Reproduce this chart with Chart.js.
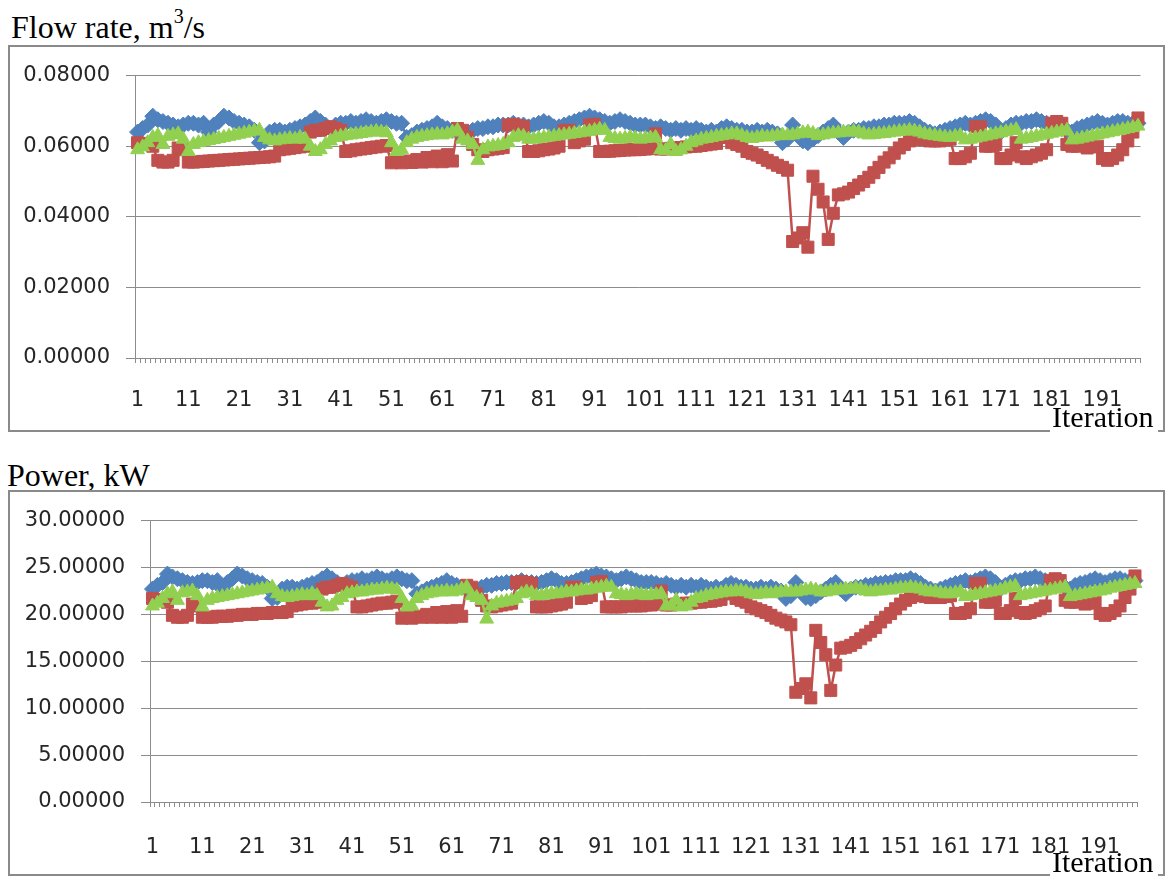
<!DOCTYPE html>
<html>
<head>
<meta charset="utf-8">
<title>Flow rate and power per iteration</title>
<script src="https://cdn.jsdelivr.net/npm/chart.js"></script>
<style>
  body { margin: 0; background: #fff; width: 1172px; height: 879px; position: relative; overflow: hidden; }
  .title { position: absolute; font-family: "Liberation Serif", serif; font-size: 32px; line-height: 32px; color: #000; white-space: nowrap; }
  .title sup { font-size: 20px; line-height: 0; position: relative; top: -3px; }
  .box { position: absolute; left: 8px; width: 1153px; border: 2px solid #8a8a8a; background: #fff; }
  .box canvas { display: block; }
  .gap { position: absolute; left: 1050px; width: 108px; height: 6px; background: #fff; }
  .xname { position: absolute; font-family: "Liberation Serif", serif; font-size: 30px; line-height: 30px; color: #000; white-space: nowrap; }
</style>
</head>
<body>
<div class="title" style="left:11px; top:11px;">Flow rate, m<sup>3</sup>/s</div>
<div class="box" style="top:45px; height:383px;"><canvas id="flowChart" width="1153" height="383"></canvas></div>
<div class="gap" style="top:427px;"></div>
<div class="xname" style="left:1052px; top:402px;">Iteration</div>

<div class="title" style="left:7px; top:459px;">Power, kW</div>
<div class="box" style="top:490px; height:382px;"><canvas id="powerChart" width="1153" height="382"></canvas></div>
<div class="gap" style="top:871px;"></div>
<div class="xname" style="left:1052px; top:847px;">Iteration</div>

<script>
    // Iterations 1..198 on the category axis, a label every 10
    const iterations = [];
    for (let i = 1; i <= 198; i++) iterations.push(String(i));
    const labelledIterations = ['1', '11', '21', '31', '41', '51', '61', '71', '81', '91',
        '101', '111', '121', '131', '141', '151', '161', '171', '181', '191'];

    // Flow rate, m3/s
    const flowBlue = [
        0.0640,0.0650,0.0660,0.0685,0.0675,0.0670,0.0665,0.0660,0.0655,0.0660,
        0.0665,0.0665,0.0660,0.0665,0.0640,0.0660,0.0670,0.0685,0.0680,0.0670,
        0.0665,0.0660,0.0655,0.0645,0.0610,0.0615,0.0640,0.0645,0.0645,0.0640,
        0.0645,0.0650,0.0655,0.0660,0.0670,0.0680,0.0670,0.0660,0.0650,0.0660,
        0.0665,0.0665,0.0670,0.0665,0.0670,0.0675,0.0670,0.0665,0.0670,0.0675,
        0.0670,0.0665,0.0665,0.0625,0.0630,0.0640,0.0645,0.0650,0.0655,0.0665,
        0.0655,0.0650,0.0645,0.0640,0.0635,0.0630,0.0645,0.0650,0.0650,0.0655,
        0.0655,0.0660,0.0660,0.0660,0.0665,0.0660,0.0660,0.0655,0.0660,0.0665,
        0.0670,0.0665,0.0655,0.0655,0.0660,0.0665,0.0670,0.0675,0.0680,0.0685,
        0.0680,0.0675,0.0670,0.0665,0.0670,0.0675,0.0670,0.0665,0.0660,0.0660,
        0.0660,0.0655,0.0650,0.0655,0.0650,0.0645,0.0650,0.0645,0.0650,0.0645,
        0.0650,0.0645,0.0640,0.0645,0.0640,0.0650,0.0655,0.0650,0.0645,0.0645,
        0.0640,0.0640,0.0645,0.0640,0.0645,0.0640,0.0635,0.0610,0.0620,0.0660,
        0.0630,0.0615,0.0610,0.0620,0.0630,0.0640,0.0650,0.0660,0.0640,0.0625,
        0.0640,0.0645,0.0645,0.0650,0.0650,0.0655,0.0655,0.0660,0.0660,0.0665,
        0.0665,0.0665,0.0670,0.0665,0.0655,0.0645,0.0640,0.0635,0.0640,0.0645,
        0.0650,0.0655,0.0660,0.0665,0.0660,0.0665,0.0670,0.0675,0.0670,0.0660,
        0.0640,0.0650,0.0660,0.0665,0.0665,0.0670,0.0670,0.0675,0.0670,0.0665,
        0.0660,0.0655,0.0650,0.0645,0.0640,0.0650,0.0655,0.0660,0.0665,0.0670,
        0.0665,0.0660,0.0665,0.0670,0.0670,0.0665,0.0665,0.0665
    ];
    const flowRed = [
        0.0610,0.0608,0.0605,0.0600,0.0560,0.0555,0.0555,0.0560,0.0595,0.0590,
        0.0555,0.0555,0.0556,0.0557,0.0558,0.0559,0.0560,0.0561,0.0562,0.0563,
        0.0564,0.0565,0.0566,0.0567,0.0568,0.0569,0.0570,0.0572,0.0590,0.0592,
        0.0594,0.0596,0.0598,0.0600,0.0640,0.0645,0.0645,0.0650,0.0655,0.0650,
        0.0645,0.0585,0.0587,0.0590,0.0592,0.0594,0.0596,0.0598,0.0600,0.0602,
        0.0553,0.0556,0.0553,0.0558,0.0554,0.0562,0.0555,0.0568,0.0556,0.0572,
        0.0556,0.0576,0.0558,0.0650,0.0645,0.0625,0.0605,0.0590,0.0585,0.0590,
        0.0592,0.0594,0.0596,0.0660,0.0662,0.0658,0.0655,0.0585,0.0585,0.0587,
        0.0590,0.0592,0.0595,0.0600,0.0645,0.0645,0.0610,0.0615,0.0620,0.0660,
        0.0662,0.0585,0.0585,0.0586,0.0587,0.0588,0.0589,0.0590,0.0590,0.0591,
        0.0592,0.0593,0.0635,0.0592,0.0592,0.0594,0.0595,0.0596,0.0598,0.0600,
        0.0600,0.0602,0.0604,0.0606,0.0608,0.0625,0.0625,0.0610,0.0605,0.0600,
        0.0585,0.0580,0.0575,0.0568,0.0560,0.0553,0.0546,0.0540,0.0532,0.0330,
        0.0340,0.0355,0.0314,0.0515,0.0478,0.0442,0.0336,0.0410,0.0462,0.0465,
        0.0470,0.0480,0.0490,0.0500,0.0512,0.0525,0.0540,0.0555,0.0567,0.0580,
        0.0595,0.0605,0.0615,0.0620,0.0620,0.0618,0.0615,0.0615,0.0615,0.0618,
        0.0620,0.0565,0.0565,0.0570,0.0580,0.0655,0.0655,0.0600,0.0600,0.0605,
        0.0565,0.0565,0.0575,0.0610,0.0570,0.0565,0.0570,0.0575,0.0580,0.0590,
        0.0665,0.0670,0.0665,0.0605,0.0600,0.0600,0.0602,0.0595,0.0598,0.0600,
        0.0565,0.0560,0.0565,0.0575,0.0590,0.0615,0.0640,0.0680
    ];
    const flowGreen = [
        0.0590,0.0598,0.0610,0.0625,0.0630,0.0605,0.0628,0.0632,0.0635,0.0620,
        0.0585,0.0605,0.0610,0.0613,0.0616,0.0619,0.0622,0.0625,0.0628,0.0631,
        0.0634,0.0637,0.0640,0.0643,0.0645,0.0625,0.0618,0.0615,0.0618,0.0620,
        0.0622,0.0620,0.0625,0.0620,0.0600,0.0585,0.0590,0.0605,0.0615,0.0625,
        0.0628,0.0630,0.0632,0.0634,0.0636,0.0638,0.0640,0.0642,0.0640,0.0638,
        0.0610,0.0585,0.0590,0.0610,0.0620,0.0625,0.0628,0.0630,0.0632,0.0634,
        0.0632,0.0635,0.0640,0.0645,0.0620,0.0615,0.0605,0.0560,0.0590,0.0598,
        0.0600,0.0602,0.0605,0.0610,0.0625,0.0630,0.0628,0.0620,0.0620,0.0622,
        0.0624,0.0626,0.0628,0.0630,0.0632,0.0634,0.0636,0.0638,0.0640,0.0642,
        0.0645,0.0648,0.0645,0.0625,0.0622,0.0620,0.0622,0.0625,0.0623,0.0620,
        0.0622,0.0623,0.0625,0.0590,0.0588,0.0605,0.0585,0.0590,0.0600,0.0610,
        0.0615,0.0620,0.0622,0.0625,0.0628,0.0630,0.0632,0.0635,0.0635,0.0630,
        0.0625,0.0622,0.0625,0.0628,0.0626,0.0628,0.0630,0.0632,0.0630,0.0632,
        0.0635,0.0638,0.0640,0.0636,0.0630,0.0632,0.0635,0.0637,0.0638,0.0640,
        0.0640,0.0642,0.0640,0.0635,0.0632,0.0633,0.0635,0.0636,0.0638,0.0640,
        0.0642,0.0643,0.0645,0.0643,0.0640,0.0635,0.0632,0.0630,0.0628,0.0626,
        0.0625,0.0628,0.0630,0.0618,0.0620,0.0623,0.0626,0.0629,0.0632,0.0635,
        0.0638,0.0641,0.0644,0.0647,0.0620,0.0622,0.0625,0.0628,0.0631,0.0634,
        0.0637,0.0640,0.0643,0.0645,0.0618,0.0620,0.0623,0.0626,0.0629,0.0632,
        0.0635,0.0638,0.0641,0.0644,0.0647,0.0650,0.0653,0.0657
    ];

    // Power, kW
    const powerBlue = [
        22.7,23.1,23.4,24.3,24.0,23.8,23.6,23.4,23.3,23.4,
        23.6,23.6,23.4,23.6,22.7,23.4,23.8,24.3,24.1,23.8,
        23.6,23.4,23.3,22.9,21.7,21.8,22.7,22.9,22.9,22.7,
        22.9,23.1,23.3,23.4,23.8,24.1,23.8,23.4,23.1,23.4,
        23.6,23.6,23.8,23.6,23.8,24.0,23.8,23.6,23.8,24.0,
        23.8,23.6,23.6,22.2,22.4,22.7,22.9,23.1,23.3,23.6,
        23.3,23.1,22.9,22.7,22.5,22.4,22.9,23.1,23.1,23.3,
        23.3,23.4,23.4,23.4,23.6,23.4,23.4,23.3,23.4,23.6,
        23.8,23.6,23.3,23.3,23.4,23.6,23.8,24.0,24.1,24.3,
        24.1,24.0,23.8,23.6,23.8,24.0,23.8,23.6,23.4,23.4,
        23.4,23.3,23.1,23.3,23.1,22.9,23.1,22.9,23.1,22.9,
        23.1,22.9,22.7,22.9,22.7,23.1,23.3,23.1,22.9,22.9,
        22.7,22.7,22.9,22.7,22.9,22.7,22.5,21.7,22.0,23.4,
        22.4,21.8,21.7,22.0,22.4,22.7,23.1,23.4,22.7,22.2,
        22.7,22.9,22.9,23.1,23.1,23.3,23.3,23.4,23.4,23.6,
        23.6,23.6,23.8,23.6,23.3,22.9,22.7,22.5,22.7,22.9,
        23.1,23.3,23.4,23.6,23.4,23.6,23.8,24.0,23.8,23.4,
        22.7,23.1,23.4,23.6,23.6,23.8,23.8,24.0,23.8,23.6,
        23.4,23.3,23.1,22.9,22.7,23.1,23.3,23.4,23.6,23.8,
        23.6,23.4,23.6,23.8,23.8,23.6,23.6,23.6
    ];
    const powerRed = [
        21.7,21.6,21.5,21.3,19.9,19.7,19.7,19.9,21.1,20.9,
        19.7,19.7,19.7,19.8,19.8,19.8,19.9,19.9,20.0,20.0,
        20.0,20.1,20.1,20.1,20.2,20.2,20.2,20.3,20.9,21.0,
        21.1,21.2,21.2,21.3,22.7,22.9,22.9,23.1,23.3,23.1,
        22.9,20.8,20.8,20.9,21.0,21.1,21.2,21.2,21.3,21.4,
        19.6,19.7,19.6,19.8,19.7,20.0,19.7,20.2,19.7,20.3,
        19.7,20.4,19.8,23.1,22.9,22.2,21.5,20.9,20.8,20.9,
        21.0,21.1,21.2,23.4,23.5,23.4,23.3,20.8,20.8,20.8,
        20.9,21.0,21.1,21.3,22.9,22.9,21.7,21.8,22.0,23.4,
        23.5,20.8,20.8,20.8,20.8,20.9,20.9,20.9,20.9,21.0,
        21.0,21.1,22.5,21.0,21.0,21.1,21.1,21.2,21.2,21.3,
        21.3,21.4,21.4,21.5,21.6,22.2,22.2,21.7,21.5,21.3,
        20.8,20.6,20.4,20.2,19.9,19.6,19.4,19.2,18.9,11.7,
        12.1,12.6,11.1,18.3,17.0,15.7,11.9,14.6,16.4,16.5,
        16.7,17.0,17.4,17.8,18.2,18.6,19.2,19.7,20.1,20.6,
        21.1,21.5,21.8,22.0,22.0,21.9,21.8,21.8,21.8,21.9,
        22.0,20.1,20.1,20.2,20.6,23.3,23.3,21.3,21.3,21.5,
        20.1,20.1,20.4,21.7,20.2,20.1,20.2,20.4,20.6,20.9,
        23.6,23.8,23.6,21.5,21.3,21.3,21.4,21.1,21.2,21.3,
        20.1,19.9,20.1,20.4,20.9,21.8,22.7,24.1
    ];
    const powerGreen = [
        20.9,21.2,21.7,22.2,22.4,21.5,22.3,22.4,22.5,22.0,
        20.8,21.5,21.7,21.8,21.9,22.0,22.1,22.2,22.3,22.4,
        22.5,22.6,22.7,22.8,22.9,22.2,21.9,21.8,21.9,22.0,
        22.1,22.0,22.2,22.0,21.3,20.8,20.9,21.5,21.8,22.2,
        22.3,22.4,22.4,22.5,22.6,22.6,22.7,22.8,22.7,22.6,
        21.7,20.8,20.9,21.7,22.0,22.2,22.3,22.4,22.4,22.5,
        22.4,22.5,22.7,22.9,22.0,21.8,21.5,19.5,20.9,21.2,
        21.3,21.4,21.5,21.7,22.2,22.4,22.3,22.0,22.0,22.1,
        22.2,22.2,22.3,22.4,22.4,22.5,22.6,22.6,22.7,22.8,
        22.9,23.0,22.9,22.2,22.1,22.0,22.1,22.2,22.1,22.0,
        22.1,22.1,22.2,20.9,20.9,21.5,20.8,20.9,21.3,21.7,
        21.8,22.0,22.1,22.2,22.3,22.4,22.4,22.5,22.5,22.4,
        22.2,22.1,22.2,22.3,22.2,22.3,22.4,22.4,22.4,22.4,
        22.5,22.6,22.7,22.6,22.4,22.4,22.5,22.6,22.6,22.7,
        22.7,22.8,22.7,22.5,22.4,22.5,22.5,22.6,22.6,22.7,
        22.8,22.8,22.9,22.8,22.7,22.5,22.4,22.4,22.3,22.2,
        22.2,22.3,22.4,21.9,22.0,22.1,22.2,22.3,22.4,22.5,
        22.6,22.8,22.9,23.0,22.0,22.1,22.2,22.3,22.4,22.5,
        22.6,22.7,22.8,22.9,21.9,22.0,22.1,22.2,22.3,22.4,
        22.5,22.6,22.8,22.9,23.0,23.1,23.2,23.3
    ];

    const blue = '#4f81bd';
    const red = '#c0504d';
    const green = '#92d050';
    const axisGrey = '#8c8c8c';
    const tickFont = { family: 'DejaVu Sans', size: 21 };

    function series(data, color, style, radius, order) {
        return {
            data: data,
            borderColor: color,
            backgroundColor: color,
            borderWidth: 2.5,
            pointStyle: style,
            pointRadius: radius,
            pointBackgroundColor: color,
            pointBorderColor: color,
            pointBorderWidth: 1,
            tension: 0,
            order: order
        };
    }

    function makeChart(id, blueData, redData, greenData, yMax, yStep, yWidth, labelPad) {
        new Chart(document.getElementById(id), {
            type: 'line',
            data: {
                labels: iterations,
                datasets: [
                    series(blueData, blue, 'rectRot', 8, 3),
                    series(redData, red, 'rect', 8.5, 2),
                    series(greenData, green, 'triangle', 8, 1)
                ]
            },
            options: {
                responsive: false,
                animation: false,
                layout: { autoPadding: false, padding: { top: 18, right: 5, left: 0, bottom: 0 } },
                plugins: { legend: { display: false }, tooltip: { enabled: false } },
                scales: {
                    x: {
                        offset: true,
                        grid: { offset: true, drawOnChartArea: false, drawTicks: true, tickLength: 5, color: axisGrey },
                        border: { color: axisGrey, width: 1 },
                        ticks: {
                            autoSkip: false,
                            maxRotation: 0,
                            minRotation: 0,
                            padding: labelPad,
                            color: '#262626',
                            font: tickFont,
                            callback: function (value) {
                                const lab = this.getLabelForValue(value);
                                return labelledIterations.includes(lab) ? lab : '';
                            }
                        },
                        afterFit: function (scale) { scale.height = 72; }
                    },
                    y: {
                        min: 0,
                        max: yMax,
                        grid: { color: axisGrey, tickLength: 9 },
                        border: { color: axisGrey, width: 1 },
                        ticks: {
                            stepSize: yStep,
                            padding: 16,
                            color: '#262626',
                            font: tickFont,
                            callback: v => v.toFixed(5)
                        },
                        afterFit: function (scale) { scale.width = yWidth; }
                    }
                }
            }
        });
    }

    makeChart('flowChart', flowBlue, flowRed, flowGreen, 0.08, 0.02, 125, 25);
    makeChart('powerChart', powerBlue, powerRed, powerGreen, 30, 5, 140, 28);
</script>
</body>
</html>
